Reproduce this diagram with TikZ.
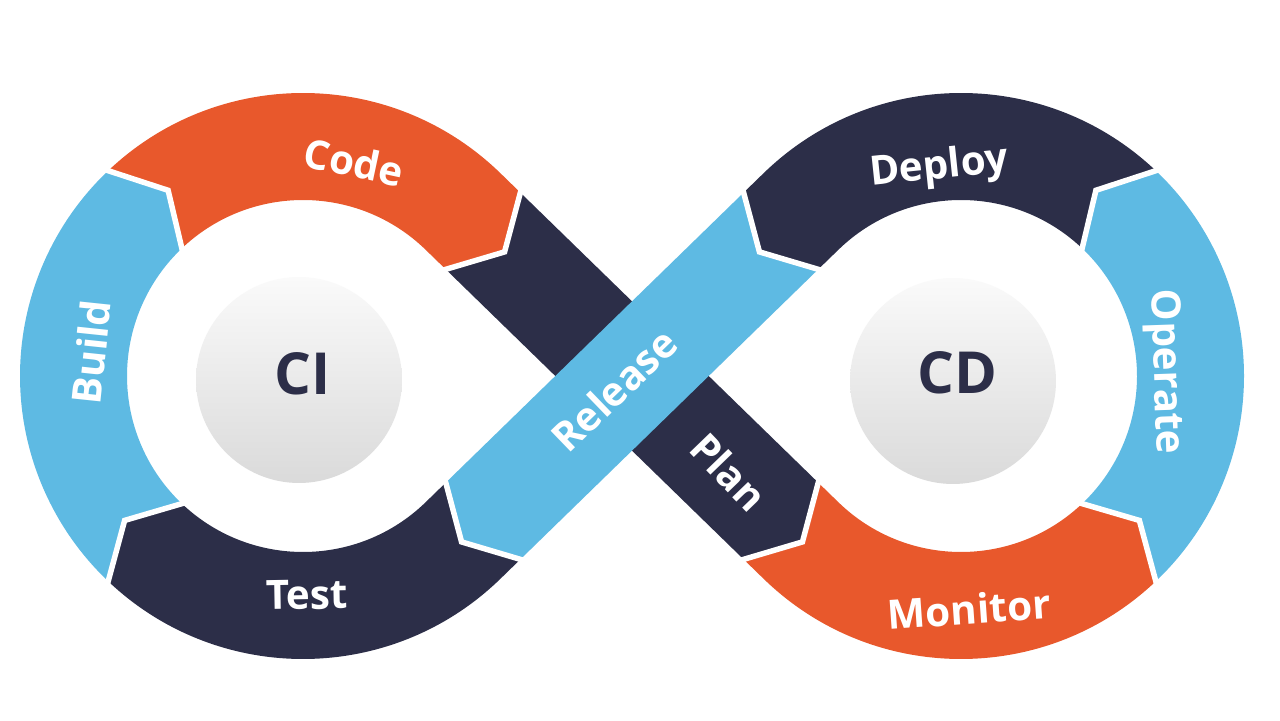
\documentclass[tikz,border=0pt]{standalone}
\usepackage{fontspec}
\setmainfont{Open Sans}
\usetikzlibrary{calc}
\definecolor{cOrange}{HTML}{E8582C}
\definecolor{cNavy}{HTML}{2C2E48}
\definecolor{cBlue}{HTML}{5EBAE3}
\definecolor{cTop}{HTML}{FAFAFA}
\definecolor{cBot}{HTML}{DADADA}
\begin{document}
\begin{tikzpicture}[x=0.02cm,y=0.02cm,
  sep/.style={white,line width=0.11cm,line join=miter,line cap=rect},
  lbl/.style={text=white,font=\fontsize{23}{23}\selectfont\bfseries,inner sep=0pt},
  hubdisc/.style={circle,minimum size=4.12cm,inner sep=0pt,top color=cTop,bottom color=cBot,draw=none},
  hubtxt/.style={text=cNavy,font=\fontsize{33}{33}\selectfont\bfseries,inner sep=0pt}]
\fill[white] (0,0) rectangle (1280,720);
\useasboundingbox (0,0) rectangle (1280,720);
% centres
\coordinate (C1) at (303,344);
\coordinate (C2) at (961,344);
% band 1 (Plan)
\coordinate (T1oL) at ($(C1)+(45.8:283)$);
\coordinate (T1iL) at ($(C1)+(45.8:176)$);
\coordinate (B1Lo) at ($(T1oL)+(-44.2:28)$);
\coordinate (B1Li) at ($(T1iL)+(-44.2:28)$);
\coordinate (V1L) at ($(B1Lo)!0.5!(B1Li)+(-44.2:30)$);
\coordinate (T1oR) at ($(C2)+(225.8:283)$);
\coordinate (T1iR) at ($(C2)+(225.8:176)$);
\coordinate (B1Ri) at ($(T1oR)+(135.8:28)$);
\coordinate (B1Ro) at ($(T1iR)+(135.8:28)$);
\coordinate (V1R) at ($(B1Ro)!0.5!(B1Ri)+(-44.2:30)$);
% band 2 (Release)
\coordinate (T2oL) at ($(C1)+(-45.8:283)$);
\coordinate (T2iL) at ($(C1)+(-45.8:176)$);
\coordinate (B2Lo) at ($(T2oL)+(44.2:28)$);
\coordinate (B2Li) at ($(T2iL)+(44.2:28)$);
\coordinate (V2L) at ($(B2Lo)!0.5!(B2Li)+(224.2:30)$);
\coordinate (T2oR) at ($(C2)+(134.2:283)$);
\coordinate (T2iR) at ($(C2)+(134.2:176)$);
\coordinate (B2Ro) at ($(T2oR)+(224.2:28)$);
\coordinate (B2Ri) at ($(T2iR)+(224.2:28)$);
\coordinate (V2R) at ($(B2Ro)!0.5!(B2Ri)+(224.2:30)$);
% ring cuts
\coordinate (K1o) at ($(C1)+(226.5:283)$);
\coordinate (K1i) at ($(C1)+(226.5:176)$);
\coordinate (K1v) at ($(C1)+(219:229.5)$);
\coordinate (K2o) at ($(C1)+(133.5:283)$);
\coordinate (K2i) at ($(C1)+(133.5:176)$);
\coordinate (K2v) at ($(C1)+(126:229.5)$);
\coordinate (K3o) at ($(C2)+(-46.5:283)$);
\coordinate (K3i) at ($(C2)+(-46.5:176)$);
\coordinate (K3v) at ($(C2)+(-39:229.5)$);
\coordinate (K4o) at ($(C2)+(46.5:283)$);
\coordinate (K4i) at ($(C2)+(46.5:176)$);
\coordinate (K4v) at ($(C2)+(54:229.5)$);
% left ring
\fill[cNavy] (B2Lo) -- (T2oL) arc[start angle=-45.8,end angle=-133.5,radius=283] -- (K1v) -- (K1i) arc[start angle=-133.5,end angle=-45.8,radius=176] -- (B2Li) -- (V2L) -- cycle;
\fill[cBlue] (K1o) arc[start angle=226.5,end angle=133.5,radius=283] -- (K2v) -- (K2i) arc[start angle=133.5,end angle=226.5,radius=176] -- (K1v) -- cycle;
\fill[cOrange] (K2o) arc[start angle=133.5,end angle=45.8,radius=283] -- (B1Lo) -- (V1L) -- (B1Li) -- (T1iL) arc[start angle=45.8,end angle=133.5,radius=176] -- (K2v) -- cycle;
% right ring
\fill[cOrange] (B1Ri) -- (T1oR) arc[start angle=225.8,end angle=313.5,radius=283] -- (K3v) -- (K3i) arc[start angle=313.5,end angle=225.8,radius=176] -- (B1Ro) -- (V1R) -- cycle;
\fill[cBlue] (K3o) arc[start angle=-46.5,end angle=46.5,radius=283] -- (K4v) -- (K4i) arc[start angle=46.5,end angle=-46.5,radius=176] -- (K3v) -- cycle;
\fill[cNavy] (K4o) arc[start angle=46.5,end angle=134.2,radius=283] -- (B2Ro) -- (V2R) -- (B2Ri) -- (T2iR) arc[start angle=134.2,end angle=46.5,radius=176] -- (K4v) -- cycle;
% bands
\fill[cNavy] (B1Lo) -- (B1Ro) -- (V1R) -- (B1Ri) -- (B1Li) -- (V1L) -- cycle;
\fill[cBlue] (B2Ro) -- (V2R) -- (B2Ri) -- (B2Lo) -- (V2L) -- (B2Li) -- cycle;
% separators
\draw[sep] (B1Lo) -- (V1L) -- (B1Li);
\draw[sep] (B1Ro) -- (V1R) -- (B1Ri);
\draw[sep] (B2Ro) -- (V2R) -- (B2Ri);
\draw[sep] (B2Lo) -- (V2L) -- (B2Li);
\draw[sep] (K1o) -- (K1v) -- (K1i);
\draw[sep] (K2o) -- (K2v) -- (K2i);
\draw[sep] (K3o) -- (K3v) -- (K3i);
\draw[sep] (K4o) -- (K4v) -- (K4i);
% hubs
\node[hubdisc] (ciDisc) at (299,340) {};
\node[hubtxt] (ci) at (303,346) {CI};
\node[hubdisc] (cdDisc) at (953,339) {};
\node[hubtxt] (cd) at (957,347) {CD};
% labels
\node[lbl,rotate=-12] (code) at (354,558) {Code};
\node[lbl,rotate=84] (build) at (91,368) {Build};
\node[lbl,rotate=1] (test) at (307,125) {Test};
\node[lbl,rotate=44] (release) at (614,330) {Release};
\node[lbl,rotate=-46] (plan) at (729,248) {Plan};
\node[lbl,rotate=6] (deploy) at (939,552) {Deploy};
\node[lbl,rotate=-88] (operate) at (1164,348) {Operate};
\node[lbl,rotate=4] (monitor) at (969,111) {Monitor};
\end{tikzpicture}
\end{document}
